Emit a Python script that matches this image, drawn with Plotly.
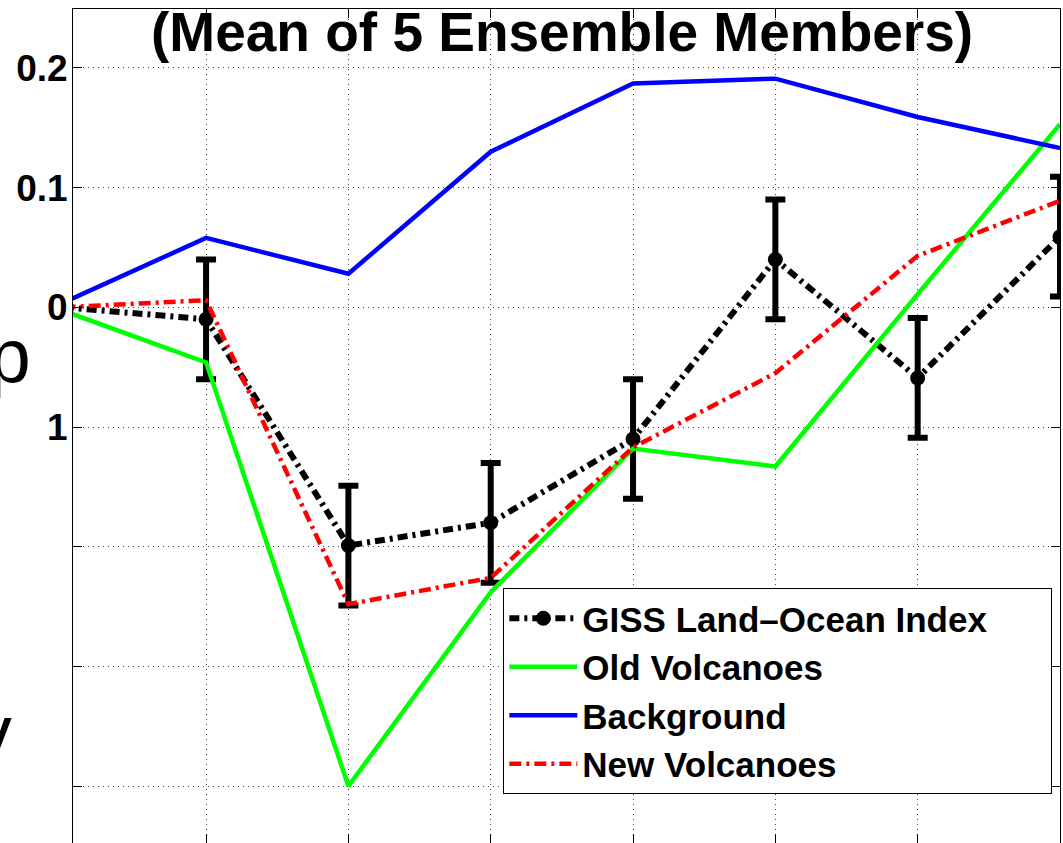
import plotly.graph_objects as go

# ---- data ----
x_idx = [0, 1, 2, 3, 4, 5, 6, 7]
giss = [0.0, -0.010, -0.199, -0.180, -0.110, 0.040, -0.059, 0.059]
giss_err = [0.0, 0.05, 0.05, 0.05, 0.05, 0.05, 0.05, 0.05]
old_volc = [-0.003, -0.046, -0.400, -0.238, -0.118, -0.133, 0.011, 0.153]
background = [0.004, 0.058, 0.028, 0.130, 0.187, 0.191, 0.159, 0.133]
new_volc = [0.0, 0.006, -0.248, -0.226, -0.117, -0.055, 0.043, 0.089]

y_tickvals = [-0.4, -0.3, -0.2, -0.1, 0.0, 0.1, 0.2]
y_ticktext = ["", "", "", "1", "0", "0.1", "0.2"]
x_gridvals = [1, 2, 3, 4, 5, 6]

title_text = "(Mean of 5 Ensemble Members)"
names = ["GISS Land\u2013Ocean Index", "Old Volcanoes", "Background", "New Volcanoes"]

FONT = "Liberation Sans, Arial, Helvetica, sans-serif"

fig = go.Figure()
fig.add_trace(go.Scatter(
    x=x_idx, y=giss, name=names[0], mode="lines+markers",
    line=dict(color="black", width=6, dash="10px,5px,3px,5px"),
    marker=dict(color="black", size=15, symbol="circle"),
    error_y=dict(type="data", array=giss_err, visible=True, color="black",
                 thickness=6, width=10),
))
fig.add_trace(go.Scatter(
    x=x_idx, y=old_volc, name=names[1], mode="lines",
    line=dict(color="#00FF00", width=4.5),
))
fig.add_trace(go.Scatter(
    x=x_idx, y=background, name=names[2], mode="lines",
    line=dict(color="#0000FF", width=4.5),
))
fig.add_trace(go.Scatter(
    x=x_idx, y=new_volc, name=names[3], mode="lines",
    line=dict(color="#FF0000", width=4.5, dash="12px,5px,3px,5px"),
))

fig.update_layout(
    width=1063, height=843,
    margin=dict(l=73, r=3, t=9, b=0, autoexpand=False),
    paper_bgcolor="white", plot_bgcolor="white",
    font=dict(family=FONT, color="black"),
    showlegend=True,
    legend=dict(
        orientation="h",
        x=0.436, y=0.3058, xanchor="left", yanchor="top",
        bgcolor="white", bordercolor="black", borderwidth=1,
        font=dict(family=FONT, size=35, color="black", weight="bold"),
        itemwidth=68, entrywidth=464, entrywidthmode="pixels",
    ),
    xaxis=dict(
        range=[0.065, 7], tickvals=x_gridvals, showticklabels=False,
        showgrid=True, gridcolor="#444444", gridwidth=1, griddash="1px,4px",
        zeroline=False, showline=True, linecolor="black", linewidth=1,
        mirror="ticks", ticks="inside", ticklen=9, tickcolor="black",
        automargin=False,
    ),
    yaxis=dict(
        range=[-0.4475, 0.2492], tickvals=y_tickvals, ticktext=y_ticktext,
        showgrid=True, gridcolor="#444444", gridwidth=1, griddash="1px,4px",
        zeroline=False, showline=True, linecolor="black", linewidth=1,
        mirror="ticks", ticks="inside", ticklen=9, tickcolor="black",
        tickfont=dict(family=FONT, size=37, color="black", weight="bold"),
        ticklabelstandoff=-3,
        automargin=False,
    ),
    annotations=[
        dict(text=title_text, xref="paper", yref="paper", x=0.5, y=1,
             xanchor="center", yanchor="top", showarrow=False, xshift=-5, yshift=10,
             font=dict(family=FONT, size=55, color="black", weight="bold")),
        dict(text="Temp", xref="paper", yref="paper", x=-0.0436, y=0.584,
             xanchor="right", yanchor="middle", showarrow=False, xshift=3,
             font=dict(family=FONT, size=76, color="black")),
        dict(text="Anomaly", xref="paper", yref="paper", x=-0.0598, y=0.134,
             xanchor="right", yanchor="middle", showarrow=False,
             font=dict(family=FONT, size=76, color="black")),
    ],
)

fig.write_html(
    "out.html",
    config={"displayModeBar": False},
    post_script="document.body.style.margin='0';document.body.style.overflow='hidden';",
)
